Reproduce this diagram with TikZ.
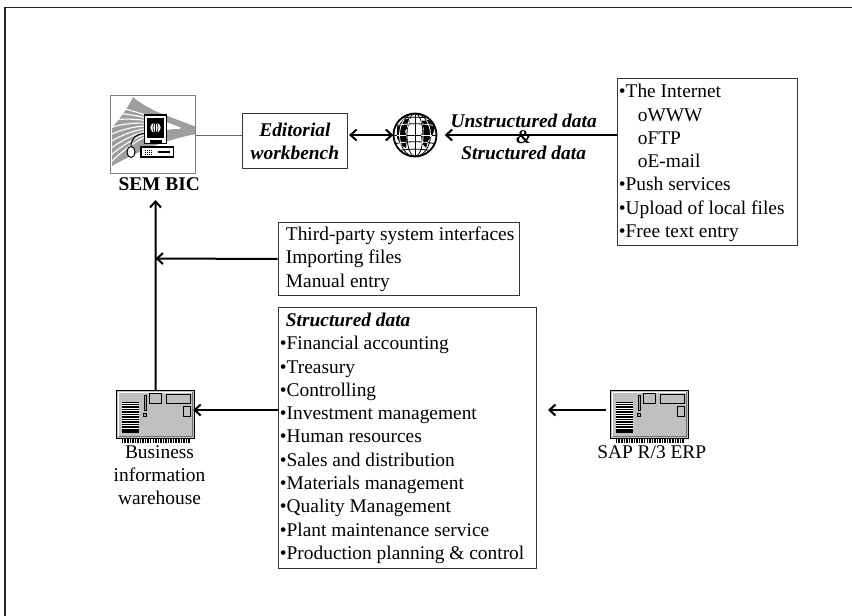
\documentclass[tikz,border=0pt]{standalone}
\usepackage{fontspec}
\setmainfont{Liberation Serif}
\usetikzlibrary{arrows.meta,calc}

% grid of the globe, centred on the current origin
\newcommand\globegridlines{%
  \draw (0,-21.5) -- (0,21.5);
  \draw (0,0) ellipse (8 and 21.5);
  \draw (0,0) ellipse (15.5 and 21.5);
  \draw (-21.5,0) -- (21.5,0);
  \draw (-21.5,-9) .. controls (-8,-12) and (8,-12) .. (21.5,-9);
  \draw (-21.5,9) .. controls (-8,6) and (8,6) .. (21.5,9);
  \draw (-18,-16) .. controls (-6,-18.5) and (6,-18.5) .. (18,-16);
  \draw (-18,16) .. controls (-6,13.5) and (6,13.5) .. (18,16);
}
\newcommand\globelands{%
  (-18,-8) -- (-12,-15) -- (-5,-17) -- (-6,-10) -- (-10,-4) -- (-8,3) -- (-9,13) -- (-14,10) -- (-18,3) -- cycle
  (6,-14) -- (14,-15) -- (20,-8) -- (18,-1) -- (13,6) -- (11,13) -- (7,8) -- (6,0) -- (9,-6) -- cycle
}

\tikzset{
  x=1pt, y=-1pt,
  txt/.style={font=\fontsize{19.4}{23.3}\selectfont, inner sep=0pt, align=left, anchor=west},
  bolditalic/.style={font=\fontsize{19.4}{23.3}\selectfont\bfseries\itshape},
  tightlbl/.style={bolditalic, inner sep=0pt, anchor=base, text height=13pt, text depth=0pt},
  panel/.style={draw=black!80, line width=1pt, anchor=north west, inner sep=0pt},
  arr/.style={line width=2pt, -{Straight Barb[length=6pt,width=11pt]}},
  dblarr/.style={line width=2pt, {Straight Barb[length=6pt,width=11pt]}-{Straight Barb[length=6pt,width=11pt]}},
  server/.pic={
    \fill[black!25] (0,0) rectangle (77.6,48.3);
    \draw[black!55, line width=1pt] (2,46.3) -- (75.6,46.3) -- (75.6,2);
    \draw[white, line width=1pt] (2,46.3) -- (2,2) -- (75.6,2);
    \draw[black, line width=1pt] (0,0) rectangle (77.6,48.3);
    \fill[black] (5,11.7) rectangle (22.6,43);
    \foreach \k in {0,...,10} \draw[white, line width=0.7pt] (5,13.2+\k*2.5) -- (22.6,13.2+\k*2.5);
    \draw[black, fill=black!35, line width=0.8pt] (27.2,5) rectangle (29.6,20);
    \draw[black, fill=black!35, line width=0.8pt] (27,23) rectangle (30,26);
    \draw[black, line width=0.8pt] (32.6,3.3) rectangle (45,13.3);
    \draw[black, line width=0.8pt] (49.3,4) rectangle (73.3,13.3);
    \draw[black, line width=0.8pt] (66.6,16) rectangle (73.3,26.7);
    \foreach \t in {0,...,26} \fill[black] (5.2+\t*2.55,48.3) rectangle ++(1.5,4.5);
  }
}

\begin{document}
\begin{tikzpicture}
\useasboundingbox (0,0) rectangle (852,616);
\fill[white] (0,0) rectangle (852,616);

% outer frame
\draw[line width=1.3pt, black!85] (5,616) -- (5,7.5) -- (852,7.5);

% ---------- SEM BIC workstation ----------
\node[minimum width=84.6pt, minimum height=77.6pt,
      anchor=north west, inner sep=0pt] (sem) at (110.7,95.7) {};
\begin{scope}
  \clip (110.7,95.7) rectangle (195.3,173.3);
  \fill[black!38] (133,97) .. controls (150,112) and (175,118) .. (196,127)
        -- (196,134) .. controls (165,140) and (140,150) .. (112,166)
        -- (112,128) .. controls (120,118) and (128,108) .. (133,97) -- cycle;
  \foreach \i in {1,...,9}
    \draw[white, line width=1.1pt] (110,100+\i*7) .. controls (126,102+\i*5) and (150,115+\i*1.5) .. (180,128);
  % mouse and cord
  \draw[line width=1pt] (131,146.5) .. controls (131,138) and (137,133.5) .. (144.3,133.5);
  \draw[fill=white, line width=1pt] (131,152) ellipse (4 and 5.5);
  % base unit
  \draw[fill=white, line width=1.2pt] (141,147) rectangle (173.3,157);
  \foreach \a in {0,...,3} \foreach \b in {0,...,2}
    \fill (144.5+\a*2,149.5+\b*2) rectangle ++(1,1);
  \fill (158,150.5) rectangle (169.5,152.8);
  % monitor
  \draw[fill=white, line width=1.2pt] (144.3,115) rectangle (166.7,143.3);
  \fill (147,118) rectangle (164,137.5);
  \fill[white] (155.5,127.7) circle (5.2);
  \draw[line width=0.7pt] (155.5,122.5) -- (155.5,132.9) (155.5,127.7) ellipse (2.6 and 5.2);
  \fill (149.5,140) rectangle (161.5,143.3);
\end{scope}
\draw[black!50, line width=1.2pt] (sem.north west) rectangle (sem.south east);
\node[font=\fontsize{19.4}{23.3}\selectfont\bfseries, inner sep=0pt, anchor=base] (semlbl) at (159.2,190) {SEM BIC};

% ---------- editorial workbench ----------
\node[panel, bolditalic, align=center, minimum width=105.4pt, minimum height=55pt] (ed) at (241.7,113.3) {Editorial\\workbench};

% ---------- globe ----------
\node[circle, minimum size=43pt, inner sep=0pt] (globe) at (415,135) {};
\begin{scope}[shift={(415,135)}]
  \fill[white] (0,0) circle (21.5);
  \begin{scope}
    \clip (0,0) circle (21.5);
    \fill[black] \globelands;
    \begin{scope}[line width=0.8pt, black]
      \globegridlines
    \end{scope}
    \clip \globelands;
    \begin{scope}[line width=0.8pt, white]
      \globegridlines
    \end{scope}
  \end{scope}
  \draw[line width=1.8pt] (0,0) circle (21.5);
\end{scope}

% ---------- sources on the web ----------
\node[panel, minimum width=180pt, minimum height=167pt] (rb) at (616.7,78) {};
\node[txt] (rbtext) at ($(rb.west)+(2,1)$) {\textbullet The Internet\\
  \hspace*{19pt}oWWW\\ \hspace*{19pt}oFTP\\ \hspace*{19pt}oE-mail\\
  \textbullet Push services\\ \textbullet Upload of local files\\ \textbullet Free text entry};

\node[tightlbl] (lblu) at (523.7,127) {Unstructured data};
\node[tightlbl] (lblamp) at (523.7,143) {\&};
\node[tightlbl] (lbls) at (523.7,159) {Structured data};

% ---------- other input channels ----------
\node[panel, minimum width=241.6pt, minimum height=73pt] (tp) at (277.7,222) {};
\node[txt] (tptext) at ($(tp.west)+(8,0)$) {Third-party system interfaces\\ Importing files\\ Manual entry};

% ---------- structured data ----------
\node[panel, minimum width=258pt, minimum height=261pt] (sd) at (277.7,307.3) {};
\node[txt] (sdtext) at ($(sd.west)+(2,0)$) {\hspace*{6pt}\textbf{\textit{Structured data}}\\
  \textbullet Financial accounting\\ \textbullet Treasury\\ \textbullet Controlling\\
  \textbullet Investment management\\ \textbullet Human resources\\
  \textbullet Sales and distribution\\ \textbullet Materials management\\
  \textbullet Quality Management\\ \textbullet Plant maintenance service\\
  \textbullet Production planning \& control};

% ---------- servers ----------
\node[anchor=north west, inner sep=0pt, minimum width=77.6pt, minimum height=48.3pt] (bw) at (116.7,390) {};
\pic at (bw.north west) {server};
\node[txt, anchor=north, align=center] (bwlbl) at (159.5,445.3) {Business\\ information\\ warehouse};

\node[anchor=north west, inner sep=0pt, minimum width=77.6pt, minimum height=48.3pt] (sap) at (610.7,390) {};
\pic at (sap.north west) {server};
\node[txt, anchor=base] (saplbl) at (651.7,458) {SAP R/3 ERP};

% ---------- connectors ----------
\coordinate (topy) at (0,135);
\coordinate (midy) at (0,410);
\coordinate (uptip) at (155.5,200);
\coordinate (join) at (155.5,258.5);
\coordinate (saptip) at (548,410);

\draw[black!60, line width=1pt] (sem.east |- topy) -- (ed.west |- topy);
\draw[dblarr, shorten <=1pt] (ed.east |- topy) -- (globe.west);
\draw[arr, shorten >=8pt] (rb.west |- topy) -- (globe.east);
\draw[arr] (bw.north) -- (uptip);
\draw[arr] (tp.west) -- (join);
\draw[arr, shorten >=-1.5pt] (sd.west |- midy) -- (bw.east |- midy);
\draw[arr, shorten <=5pt] (sap.west |- midy) -- (saptip);
\end{tikzpicture}
\end{document}
